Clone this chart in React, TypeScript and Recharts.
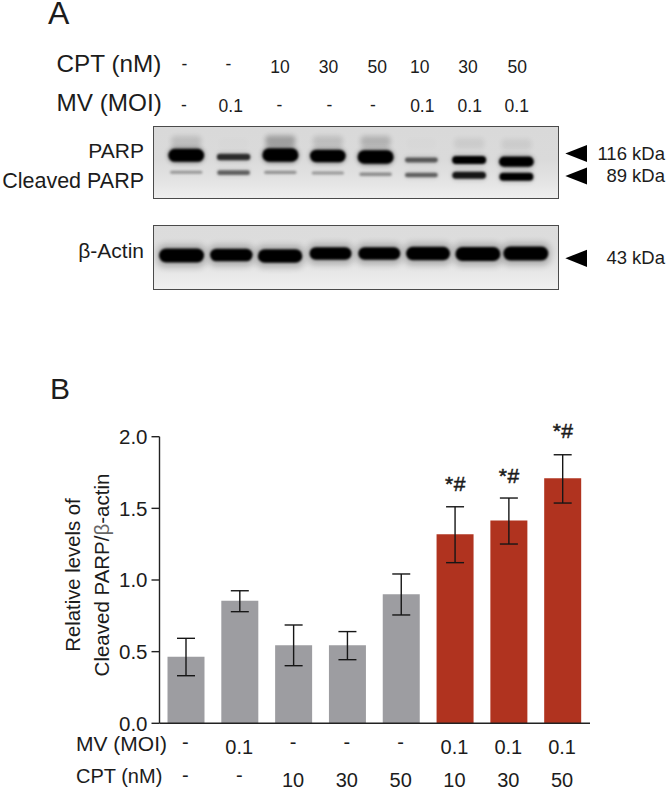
import React from "react";
import {
  Bar,
  Cell,
  ComposedChart,
  ErrorBar,
  Line,
  Scatter,
  ScatterChart,
  XAxis,
  YAxis,
} from "recharts";

// ---- Panel B values ----
const mvLabels = ["-", "0.1", "-", "-", "-", "0.1", "0.1", "0.1"];
const cptLabels = ["-", "-", "10", "30", "50", "10", "30", "50"];
const means = [0.465, 0.855, 0.544, 0.544, 0.9, 1.32, 1.416, 1.71];
const upperBounds = [0.593, 0.925, 0.686, 0.64, 1.042, 1.511, 1.572, 1.874];
const lowerBounds = [0.332, 0.779, 0.402, 0.444, 0.756, 1.121, 1.251, 1.537];
const significance = [null, null, null, null, null, 1.623, 1.679, 1.988];
const yTicks = [0, 0.5, 1, 1.5, 2];

// ---- Panel A densitometry ----
const parpLanes = [32.4, 80, 127, 174.7, 222.7, 268.7, 316.7, 364.2];
const parpMigration = [28.3, 30, 28, 29, 30, 33, 33, 34.7];
const parpDensity = [0.95, 0.35, 1.0, 0.9, 1.0, 0.22, 0.5, 0.7];
const cleavedMigration = [45.3, 45.7, 45.3, 46, 47.3, 48, 48.3, 49.7];
const cleavedDensity = [0.05, 0.2, 0.06, 0.05, 0.08, 0.2, 0.42, 0.5];
const smearMigration = [14, 16, 13.5, 14, 14, 16, 16, 17];
const smearDensity = [0.14, 0.01, 0.3, 0.14, 0.2, 0.01, 0.07, 0.07];
const actinLanes = [27.7, 77.7, 126.7, 177.4, 226.4, 275.4, 325.5, 373.7];
const actinMigration = [29.5, 29, 30, 27.5, 27.5, 27.5, 28, 27.5];
const actinDensity = [1, 0.75, 0.95, 0.7, 0.7, 0.9, 1, 1];

const barData = means.map((mean, i) => ({
  group: i,
  mean,
  mv: mvLabels[i],
  cpt: cptLabels[i],
  err: [mean - lowerBounds[i], upperBounds[i] - mean],
  sig: significance[i],
}));

const toPoints = (lanes: number[], mig: number[], den: number[]) =>
  lanes.map((lane, i) => ({ lane, mig: mig[i], den: den[i] }));

const FONT = '"Liberation Sans", Arial, sans-serif';
const INK = "#1c1c1c";
const GEL_W = 405.4;

const ParpBand = (p: any) => {
  const d = p.payload.den;
  const w = 32 + 4 * d;
  const h = 2.5 + 11 * d;
  return (
    <g>
      <rect
        x={p.cx - w / 2 - 1}
        y={p.cy - h / 2 - 2}
        width={w + 2}
        height={h + 4}
        rx={(h + 4) / 2}
        fill="#000"
        opacity={0.3 * d}
        style={{ filter: "blur(2px)" }}
      />
      <rect
        x={p.cx - w / 2}
        y={p.cy - h / 2}
        width={w}
        height={h}
        rx={h / 2}
        fill="#000"
        opacity={Math.min(1, 0.22 + 1.6 * d)}
        style={{ filter: "blur(1.1px)" }}
      />
    </g>
  );
};

const SmearBand = (p: any) => {
  const d = p.payload.den;
  return (
    <rect
      x={p.cx - 15}
      y={p.cy - 5}
      width={30}
      height={11}
      rx={4}
      fill="#000"
      opacity={d * 0.9}
      style={{ filter: "blur(2.4px)" }}
    />
  );
};

const ActinBand = (p: any) => {
  const d = p.payload.den;
  const w = 35 + 10 * d;
  const h = 9 + 5 * d;
  return (
    <g>
      <rect
        x={p.cx - w / 2 - 2}
        y={p.cy - h / 2 - 4}
        width={w + 4}
        height={h + 9}
        rx={8}
        fill="#000"
        opacity={0.22}
        style={{ filter: "blur(3px)" }}
      />
      <rect
        x={p.cx - w / 2}
        y={p.cy - h / 2}
        width={w}
        height={h}
        rx={h / 2}
        fill="#000"
        style={{ filter: "blur(1px)" }}
      />
    </g>
  );
};

const gelStyle = (top: number, height: number, bg: string): React.CSSProperties => ({
  position: "absolute",
  left: 153,
  top,
  width: 406,
  height,
  boxSizing: "border-box",
  border: "1.2px solid #4a4a4a",
  background: bg,
  overflow: "hidden",
});

const Gel = ({ height, children }: { height: number; children: React.ReactNode }) => (
  <ScatterChart width={GEL_W - 2} height={height} margin={{ top: 0, right: 0, bottom: 0, left: 0 }}>
    <XAxis type="number" dataKey="lane" domain={[0, GEL_W]} hide allowDataOverflow />
    <YAxis type="number" dataKey="mig" domain={[0, height]} reversed hide allowDataOverflow />
    {children}
  </ScatterChart>
);

const HeaderText = ({ x, y, size, anchor, children }: any) => (
  <text x={x} y={y} fontSize={size} textAnchor={anchor ?? "start"} fontFamily={FONT} fill={INK}>
    {children}
  </text>
);

const cptRowX = [184.3, 228.3, 280, 328.5, 377.3, 419.7, 468, 517.3];
const mvRowX = [184, 230.7, 279.3, 329.3, 373, 422.3, 469.7, 516.7];
const arrowTips = [153.5, 176, 258.3];

const GroupTick = (p: any) => {
  const i = p.payload.index ?? p.payload.value;
  const mv = mvLabels[i];
  const cpt = cptLabels[i];
  const x = p.x - 1;
  return (
    <g fontFamily={FONT} fontSize={20} fill={INK} textAnchor="middle">
      <text x={x} y={p.y + (mv === "-" ? 25.7 : 30.3)}>{mv}</text>
      <text x={x} y={p.y + (cpt === "-" ? 58.3 : 63.2)}>{cpt}</text>
    </g>
  );
};

const SigMark = (p: any) => {
  if (p.value == null || p.payload.sig == null) return <g key={p.index} />;
  return (
    <text
      key={p.index}
      x={p.cx}
      y={p.cy}
      textAnchor="middle"
      fontFamily={FONT}
      fontSize={21}
      fill={INK}
      stroke={INK}
      strokeWidth={0.5}
      letterSpacing={0.5}
    >
      *#
    </text>
  );
};

export default function App() {
  return (
    <div style={{ position: "absolute", left: 0, top: 0, width: 666, height: 788, overflow: "hidden", background: "#fff" }}>
      {/* Panel A annotations */}
      <svg width={666} height={300} style={{ position: "absolute", left: 0, top: 0 }}>
        <HeaderText x={48} y={24} size={32}>A</HeaderText>
        <HeaderText x={56.5} y={71.5} size={24.3}>CPT (nM)</HeaderText>
        <HeaderText x={56.5} y={110.5} size={24.3}>MV (MOI)</HeaderText>
        {cptLabels.map((t, i) => (
          <HeaderText key={i} x={cptRowX[i]} y={t === "-" ? 70 : 72.7} size={17.5} anchor="middle">{t}</HeaderText>
        ))}
        {mvLabels.map((t, i) => (
          <HeaderText key={i} x={mvRowX[i]} y={t === "-" ? 111 : 111.7} size={17.5} anchor="middle">{t}</HeaderText>
        ))}
        <HeaderText x={144} y={158.3} size={21} anchor="end">PARP</HeaderText>
        <HeaderText x={144} y={187.7} size={21.5} anchor="end">Cleaved PARP</HeaderText>
        <HeaderText x={144} y={258.3} size={21} anchor="end">β-Actin</HeaderText>
        {arrowTips.map((y) => (
          <polygon key={y} points={`565.3,${y} 587,${y - 8.6} 587,${y + 8.6}`} fill="#000" />
        ))}
        <HeaderText x={665} y={160} size={18.5} anchor="end">116 kDa</HeaderText>
        <HeaderText x={665} y={182.3} size={18.5} anchor="end">89 kDa</HeaderText>
        <HeaderText x={665} y={264.3} size={18.5} anchor="end">43 kDa</HeaderText>
      </svg>

      {/* Panel A gels */}
      <div style={gelStyle(126, 73, "linear-gradient(180deg,#d9d9d9 0%,#dadada 45%,#e3e3e3 75%,#eeeeee 100%)")}>
        <Gel height={71}>
          <Scatter
            data={toPoints(parpLanes, smearMigration, smearDensity)}
            shape={SmearBand}
            isAnimationActive={false}
          />
          <Scatter
            data={toPoints(parpLanes, parpMigration, parpDensity)}
            shape={ParpBand}
            isAnimationActive={false}
          />
          <Scatter
            data={toPoints(parpLanes, cleavedMigration, cleavedDensity)}
            shape={ParpBand}
            isAnimationActive={false}
          />
        </Gel>
      </div>
      <div style={gelStyle(225, 65, "linear-gradient(180deg,#dcdcdc 0%,#dddddd 40%,#e6e6e6 70%,#f0f0f0 100%)")}>
        <Gel height={63}>
          <Scatter
            data={toPoints(actinLanes, actinMigration, actinDensity)}
            shape={ActinBand}
            isAnimationActive={false}
          />
        </Gel>
      </div>

      {/* Panel B */}
      <div style={{ position: "absolute", left: 0, top: 0 }}>
        <ComposedChart
          width={666}
          height={788}
          data={barData}
          margin={{ top: 436.7, right: 76, bottom: 4.7, left: 99.5 }}
        >
          <text x={50} y={399} fontSize={30} fontFamily={FONT} fill={INK}>B</text>
          <XAxis
            dataKey="group"
            type="category"
            tick={<GroupTick />}
            tickLine={false}
            tickSize={0}
            tickMargin={0}
            height={60}
            interval={0}
            axisLine={{ stroke: "#222", strokeWidth: 1.4 }}
          />
          <YAxis
            type="number"
            domain={[0, 2]}
            ticks={yTicks}
            width={60}
            tickSize={8}
            tickMargin={4}
            tickFormatter={(v: number) => v.toFixed(1)}
            tick={{ fontSize: 20.5, fontFamily: FONT, fill: INK }}
            tickLine={{ stroke: "#222", strokeWidth: 1.4 }}
            axisLine={{ stroke: "#222", strokeWidth: 1.4 }}
          />
          <Bar dataKey="mean" barSize={37} isAnimationActive={false}>
            {barData.map((d, i) => (
              <Cell key={i} fill={d.mv !== "-" && d.cpt !== "-" ? "#b0331f" : "#9d9da1"} />
            ))}
            <ErrorBar dataKey="err" width={9} stroke="#161616" strokeWidth={1.4} isAnimationActive={false} />
          </Bar>
          <Line
            dataKey="sig"
            stroke="none"
            dot={<SigMark />}
            activeDot={false}
            connectNulls={false}
            isAnimationActive={false}
          />
          <text
            transform="translate(80,575) rotate(-90)"
            textAnchor="middle"
            fontSize={20.3}
            fontFamily={FONT}
            fill={INK}
          >
            Relative levels of
          </text>
          <text
            transform="translate(109,575) rotate(-90)"
            textAnchor="middle"
            fontSize={20.5}
            fontFamily={FONT}
            fill={INK}
          >
            Cleaved PARP/<tspan fill="#666">β</tspan>-actin
          </text>
          <text x={76} y={751} fontSize={21} fontFamily={FONT} fill={INK}>MV (MOI)</text>
          <text x={76} y={782.7} fontSize={20} fontFamily={FONT} fill={INK}>CPT (nM)</text>
        </ComposedChart>
      </div>
    </div>
  );
}
